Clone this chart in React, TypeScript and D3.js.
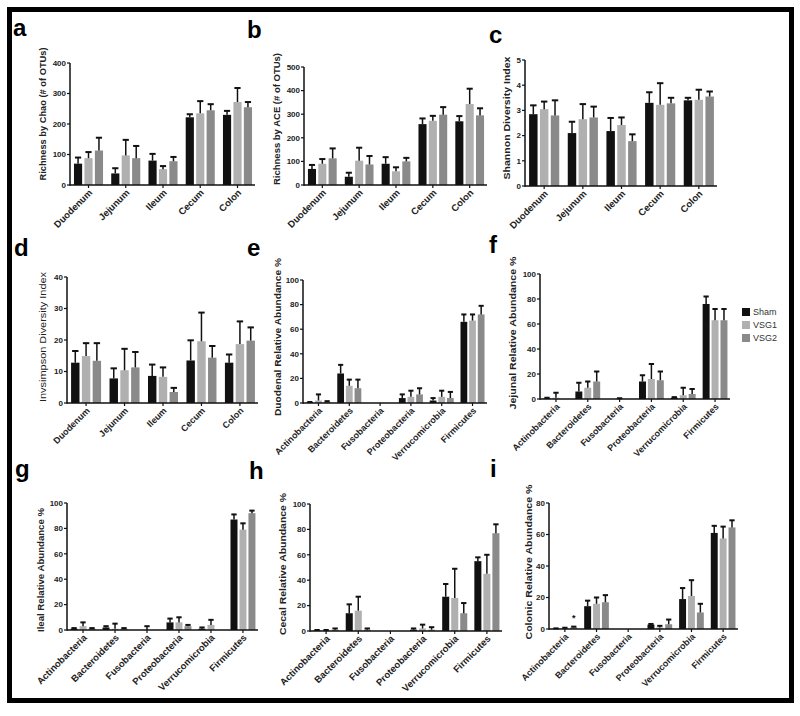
import React from "react";
import * as d3 from "d3";

// ---------- categories ----------
const regions = ["Duodenum", "Jejunum", "Ileum", "Cecum", "Colon"];
const phyla = ["Actinobacteria", "Bacteroidetes", "Fusobacteria", "Proteobacteria", "Verrucomicrobia", "Firmicutes"];
const groups = ["Sham", "VSG1", "VSG2"];
const groupColors = ["#111111", "#b0b0b0", "#8a8a8a"];

// ---------- a: Chao richness ----------
const chaoSham = [70, 38, 80, 222, 230];
const chaoVSG1 = [88, 97, 52, 235, 272];
const chaoVSG2 = [113, 88, 78, 245, 255];
const chaoSemSham = [20, 17, 22, 10, 13];
const chaoSemVSG1 = [20, 51, 10, 40, 46];
const chaoSemVSG2 = [42, 40, 14, 20, 17];
const chaoTicks = [0, 100, 200, 300, 400];

// ---------- b: ACE richness ----------
const aceSham = [68, 35, 90, 258, 270];
const aceVSG1 = [90, 103, 58, 272, 343];
const aceVSG2 = [113, 87, 100, 298, 295];
const aceSemSham = [17, 17, 28, 24, 22];
const aceSemVSG1 = [20, 55, 17, 21, 65];
const aceSemVSG2 = [42, 36, 15, 32, 30];
const aceTicks = [0, 100, 200, 300, 400, 500];

// ---------- c: Shannon ----------
const shanSham = [2.85, 2.1, 2.18, 3.3, 3.4];
const shanVSG1 = [3.05, 2.65, 2.42, 3.22, 3.42];
const shanVSG2 = [2.8, 2.72, 1.78, 3.28, 3.55];
const shanSemSham = [0.35, 0.45, 0.52, 0.42, 0.1];
const shanSemVSG1 = [0.3, 0.6, 0.3, 0.86, 0.4];
const shanSemVSG2 = [0.6, 0.43, 0.27, 0.22, 0.2];
const shanTicks = [0, 1, 2, 3, 4, 5];

// ---------- d: InvSimpson ----------
const invSham = [12.8, 7.8, 8.6, 13.5, 12.8];
const invVSG1 = [14.9, 10.4, 8.3, 19.6, 18.7];
const invVSG2 = [13.4, 11.3, 3.5, 14.4, 19.8];
const invSemSham = [3.7, 3.2, 3.6, 6.4, 2.6];
const invSemVSG1 = [4.1, 6.8, 3.0, 9.1, 7.2];
const invSemVSG2 = [5.6, 4.9, 1.3, 3.7, 4.2];
const invTicks = [0, 10, 20, 30, 40];

// ---------- e: Duodenal ----------
const duoSham = [0.5, 24, 0, 4, 2, 66];
const duoVSG1 = [2, 14, 0, 5, 5, 67];
const duoVSG2 = [1, 12, 0, 7, 4, 72];
const duoSemSham = [0.3, 7, 0, 3, 2, 6];
const duoSemVSG1 = [5, 5, 0, 5, 5, 5];
const duoSemVSG2 = [0.5, 7, 0, 5, 5, 7];

// ---------- f: Jejunal ----------
const jejSham = [0.5, 6, 0, 14, 1, 76];
const jejVSG1 = [1, 9, 0.3, 16, 3, 63];
const jejVSG2 = [0, 14, 0, 15, 4, 63];
const jejSemSham = [0.5, 7, 0, 5, 0.5, 6];
const jejSemVSG1 = [4, 5, 0.3, 12, 6, 9];
const jejSemVSG2 = [0, 8, 0, 7, 4, 9];

// ---------- g: Ileal ----------
const ileSham = [1, 2, 0, 6, 1, 87];
const ileVSG1 = [3, 1, 0, 6, 4, 79];
const ileVSG2 = [1, 1, 0, 3, 0, 92];
const ileSemSham = [0.5, 1, 0, 3, 1, 4];
const ileSemVSG1 = [3, 4, 3, 4, 4, 5];
const ileSemVSG2 = [0.5, 0.5, 0, 1, 0, 2];

// ---------- h: Cecal ----------
const cecSham = [0.5, 14, 0, 1, 27, 55];
const cecVSG1 = [0.5, 16, 0, 2, 26, 45];
const cecVSG2 = [1, 1, 0, 1, 14, 77];
const cecSemSham = [0.3, 7, 0, 1, 10, 3];
const cecSemVSG1 = [0.3, 11, 0, 3, 23, 15];
const cecSemVSG2 = [1, 1, 0, 2, 8, 7];

// ---------- i: Colonic ----------
const colSham = [0.2, 14.5, 0, 2.8, 19, 61];
const colVSG1 = [0.5, 16, 0, 1, 21, 57.5];
const colVSG2 = [1, 17, 0, 3, 10.5, 64.5];
const colSemSham = [0.2, 3.5, 0, 0.4, 7, 4.5];
const colSemVSG1 = [0.3, 4, 0, 1, 10, 7.5];
const colSemVSG2 = [0.5, 4.5, 0, 3, 5.5, 4.5];
const colStarValue = 8;

const pctTicks = [0, 20, 40, 60, 80, 100];
const pct80Ticks = [0, 20, 40, 60, 80];

const FONT = "'Liberation Sans', Arial, sans-serif";

type PanelProps = {
  cats: string[];
  means: number[][];
  sems: number[][];
  ticks: number[];
  ax: number;
  y0: number;
  yTop: number;
  xEnd: number;
  label: string;
  labelX: number;
  labelCy: number;
  labelLen: number;
  labelWeight?: string;
  catFont: number;
  star?: { cat: number; group: number; value: number };
};

function Panel(p: PanelProps) {
  const yMax = p.ticks[p.ticks.length - 1];
  const y = d3.scaleLinear().domain([0, yMax]).range([p.y0, p.yTop]);
  const x = d3.scaleBand<string>().domain(p.cats).range([p.ax + 1, p.xEnd]).paddingInner(0.22).paddingOuter(0.08);
  const sub = d3.scaleBand<string>().domain(groups).range([0, x.bandwidth()]).paddingInner(0.22);
  const bw = sub.bandwidth();
  return (
    <g>
      {p.cats.map((c, ci) =>
        groups.map((g, gi) => {
          const v = p.means[gi][ci];
          const s = p.sems[gi][ci];
          const bx = (x(c) as number) + (sub(g) as number);
          const cx = bx + bw / 2;
          return (
            <g key={c + g}>
              {v > 0 && (
                <rect x={bx} y={y(v)} width={bw} height={p.y0 - y(v)} fill={groupColors[gi]} />
              )}
              {s > 0 && (
                <g stroke="#111" strokeWidth={1.5}>
                  <line x1={cx} x2={cx} y1={y(v)} y2={y(v + s)} />
                  <line x1={cx - bw * 0.38} x2={cx + bw * 0.38} y1={y(v + s)} y2={y(v + s)} strokeWidth={2} />
                </g>
              )}
            </g>
          );
        })
      )}
      {p.star && (
        <text
          x={(x(p.cats[p.star.cat]) as number) + (sub(groups[p.star.group]) as number) + bw / 2}
          y={y(p.star.value) + 5}
          fontSize={9}
          fontWeight="bold"
          textAnchor="middle"
          fontFamily={FONT}
          fill="#111"
        >
          *
        </text>
      )}
      {/* axes */}
      <line x1={p.ax} x2={p.ax} y1={p.y0 + 0.75} y2={p.yTop} stroke="#111" strokeWidth={1.5} />
      <line x1={p.ax} x2={p.xEnd} y1={p.y0} y2={p.y0} stroke="#111" strokeWidth={1.5} />
      {p.ticks.map((t) => (
        <g key={t}>
          <line x1={p.ax - 3} x2={p.ax} y1={y(t)} y2={y(t)} stroke="#111" strokeWidth={1.2} />
          <text
            x={p.ax - 4}
            y={y(t)}
            dy="0.35em"
            textAnchor="end"
            fontSize={8}
            fontWeight="bold"
            fontFamily={FONT}
            fill="#222"
          >
            {t}
          </text>
        </g>
      ))}
      {p.cats.map((c) => {
        const cx = (x(c) as number) + x.bandwidth() / 2;
        return (
          <g key={"t" + c}>
            <line x1={cx} x2={cx} y1={p.y0} y2={p.y0 + 3} stroke="#111" strokeWidth={1.2} />
            <text
              transform={`translate(${cx + 2},${p.y0 + 6}) rotate(-45)`}
              textAnchor="end"
              dy="0.35em"
              fontSize={p.catFont}
              fontWeight="bold"
              fontFamily={FONT}
              fill="#222"
            >
              {c}
            </text>
          </g>
        );
      })}
      <text
        transform={`translate(${p.labelX},${p.labelCy}) rotate(-90)`}
        textAnchor="middle"
        dy="0.35em"
        fontSize={9.5}
        fontWeight={p.labelWeight || "bold"}
        fontFamily={FONT}
        fill="#222"
        textLength={p.labelLen}
        lengthAdjust="spacingAndGlyphs"
      >
        {p.label}
      </text>
    </g>
  );
}

const letters = [
  { t: "a", x: 13, y: 36 },
  { t: "b", x: 247, y: 38 },
  { t: "c", x: 489, y: 43 },
  { t: "d", x: 14, y: 256 },
  { t: "e", x: 247, y: 256 },
  { t: "f", x: 489, y: 253 },
  { t: "g", x: 15, y: 477 },
  { t: "h", x: 249, y: 479 },
  { t: "i", x: 490, y: 477 },
];

export default function App() {
  return (
    <svg width={800} height={716} style={{ position: "absolute", left: 0, top: 0, background: "#fff" }}>
      <rect x={0} y={0} width={800} height={716} fill="#fff" />
      <rect x={9.5} y={9.5} width={782} height={691} fill="none" stroke="#000" strokeWidth={5} />
      {letters.map((l) => (
        <text key={l.t} x={l.x} y={l.y} fontSize={24} fontWeight="bold" fontFamily={FONT} fill="#000">
          {l.t}
        </text>
      ))}
      <Panel
        cats={regions}
        means={[chaoSham, chaoVSG1, chaoVSG2]}
        sems={[chaoSemSham, chaoSemVSG1, chaoSemVSG2]}
        ticks={chaoTicks}
        ax={70} y0={185} yTop={63} xEnd={255}
        label="Richness by Chao (# of OTUs)" labelX={43} labelCy={114} labelLen={133}
        catFont={9.5}
      />
      <Panel
        cats={regions}
        means={[aceSham, aceVSG1, aceVSG2]}
        sems={[aceSemSham, aceSemVSG1, aceSemVSG2]}
        ticks={aceTicks}
        ax={304} y0={185} yTop={67} xEnd={487}
        label="Richness by ACE (# of OTUs)" labelX={277} labelCy={119} labelLen={132}
        catFont={9.5}
      />
      <Panel
        cats={regions}
        means={[shanSham, shanVSG1, shanVSG2]}
        sems={[shanSemSham, shanSemVSG1, shanSemVSG2]}
        ticks={shanTicks}
        ax={525} y0={186} yTop={60} xEnd={717}
        label="Shannon Diversity Index" labelX={507} labelCy={118} labelLen={123}
        catFont={9.5}
      />
      <Panel
        cats={regions}
        means={[invSham, invVSG1, invVSG2]}
        sems={[invSemSham, invSemVSG1, invSemVSG2]}
        ticks={invTicks}
        ax={67} y0={403} yTop={277} xEnd={258}
        label="Invsimpson Diversity Index" labelX={43} labelCy={337} labelLen={130} labelWeight="normal"
        catFont={9}
      />
      <Panel
        cats={phyla}
        means={[duoSham, duoVSG1, duoVSG2]}
        sems={[duoSemSham, duoSemVSG1, duoSemVSG2]}
        ticks={pctTicks}
        ax={303} y0={403} yTop={280} xEnd={487}
        label="Duodenal Relative Abundance %" labelX={278} labelCy={337} labelLen={158}
        catFont={9}
      />
      <Panel
        cats={phyla}
        means={[jejSham, jejVSG1, jejVSG2]}
        sems={[jejSemSham, jejSemVSG1, jejSemVSG2]}
        ticks={pctTicks}
        ax={540} y0={399} yTop={274} xEnd={730}
        label="Jejunal Relative Abundance %" labelX={513} labelCy={333} labelLen={153}
        catFont={9}
      />
      <Panel
        cats={phyla}
        means={[ileSham, ileVSG1, ileVSG2]}
        sems={[ileSemSham, ileSemVSG1, ileSemVSG2]}
        ticks={pctTicks}
        ax={67} y0={630} yTop={503} xEnd={258}
        label="Ileal Relative Abundance %" labelX={41} labelCy={570} labelLen={124}
        catFont={9.5}
      />
      <Panel
        cats={phyla}
        means={[cecSham, cecVSG1, cecVSG2]}
        sems={[cecSemSham, cecSemVSG1, cecSemVSG2]}
        ticks={pctTicks}
        ax={310} y0={631} yTop={504} xEnd={502}
        label="Cecal Relative Abundance %" labelX={283} labelCy={564} labelLen={142}
        catFont={9.5}
      />
      <Panel
        cats={phyla}
        means={[colSham, colVSG1, colVSG2]}
        sems={[colSemSham, colSemVSG1, colSemVSG2]}
        ticks={pct80Ticks}
        ax={549} y0={629} yTop={503} xEnd={738}
        label="Colonic Relative Abundance %" labelX={529} labelCy={562} labelLen={155}
        catFont={9}
        star={{ cat: 0, group: 2, value: colStarValue }}
      />
      {/* legend */}
      {groups.map((g, i) => (
        <g key={g}>
          <rect x={742} y={308 + i * 13} width={8} height={8} fill={groupColors[i]} />
          <text x={753} y={312 + i * 13} dy="0.35em" fontSize={9} fontFamily={FONT} fill="#333">
            {g}
          </text>
        </g>
      ))}
    </svg>
  );
}
